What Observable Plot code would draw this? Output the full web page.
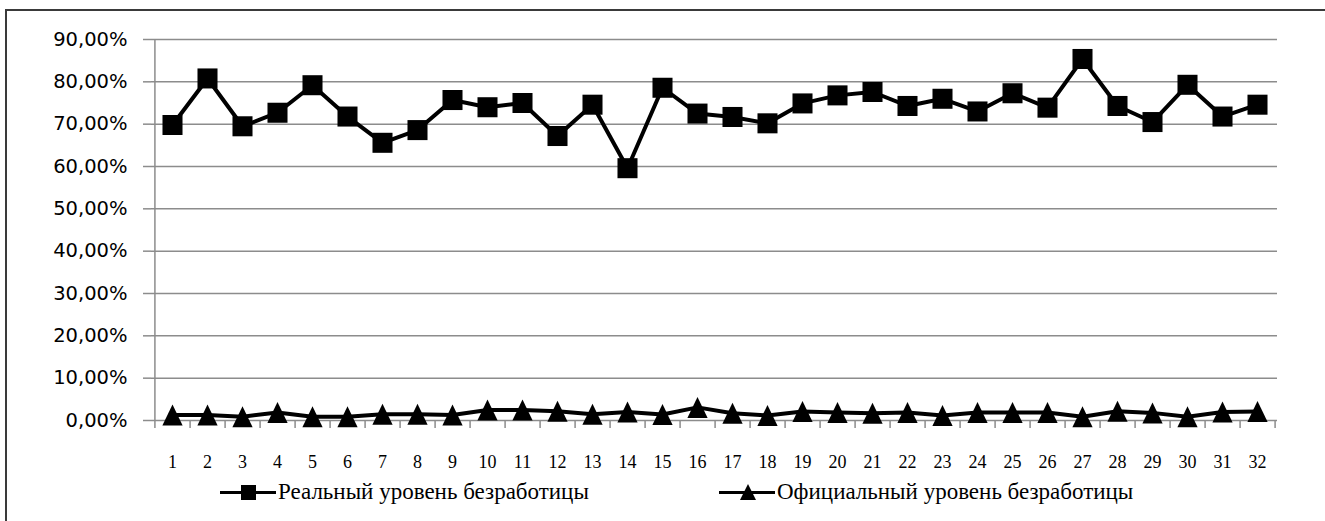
<!DOCTYPE html>
<html><head><meta charset="utf-8">
<script src="https://cdn.jsdelivr.net/npm/d3@7"></script>
<script src="https://cdn.jsdelivr.net/npm/@observablehq/plot@0.6"></script>
<style>
body{margin:0;background:#fff}
#wrap{position:relative;width:1325px;height:521px;overflow:hidden;background:#fff}
#frame{position:absolute;left:5px;top:9px;width:1400px;height:600px;border:2px solid #3a3a3a}
#chart{position:absolute;left:0;top:0}
#legend{position:absolute;left:0;top:477px;width:1325px;height:30px;font-family:"Liberation Serif",serif;font-size:23px;color:#000}
.item{position:absolute;top:0;height:30px;display:flex;align-items:center;white-space:nowrap}
.item svg{margin-right:2px}
</style></head><body>
<div id="wrap"><div id="frame"></div><div id="chart"></div><div id="legend"></div></div>
<script>
const categories = [1,2,3,4,5,6,7,8,9,10,11,12,13,14,15,16,17,18,19,20,21,22,23,24,25,26,27,28,29,30,31,32];
const xTickLabels = ["1","2","3","4","5","6","7","8","9","10","11","12","13","14","15","16","17","18","19","20","21","22","23","24","25","26","27","28","29","30","31","32"];
const realRate = [69.8,80.8,69.5,72.7,79.2,71.8,65.6,68.6,75.7,74.0,75.0,67.2,74.6,59.6,78.6,72.5,71.7,70.2,74.9,76.8,77.6,74.3,76.0,73.0,77.3,73.9,85.4,74.3,70.5,79.3,71.8,74.6];
const officialRate = [1.3,1.3,0.9,1.9,0.9,0.9,1.5,1.5,1.3,2.5,2.5,2.2,1.5,2.0,1.4,3.1,1.7,1.2,2.1,1.9,1.7,1.9,1.2,1.9,1.9,1.9,0.9,2.2,1.8,0.9,2.0,2.1];
const yTicks = [0,10,20,30,40,50,60,70,80,90];
const yTickLabels = ["0,00%","10,00%","20,00%","30,00%","40,00%","50,00%","60,00%","70,00%","80,00%","90,00%"];
const seriesNames = ["Реальный уровень безработицы","Официальный уровень безработицы"];

const W = 1325, H = 475, ml = 151, mr = 48, mt = 39, mb = 55;
const step = (W - ml - mr) / categories.length;
const rows = categories.map((c, i) => ({c, label: xTickLabels[i], real: realRate[i], official: officialRate[i]}));
const triangle = {draw(ctx, size) {
  const r = Math.sqrt(size / Math.PI), w = r * 1.35, h = r * 1.4;
  ctx.moveTo(0, -h); ctx.lineTo(w, h); ctx.lineTo(-w, h); ctx.closePath();
}};
const grid = "#8c8c8c";

const chart = Plot.plot({
  width: W, height: H, marginLeft: ml, marginRight: mr, marginTop: mt, marginBottom: mb,
  style: {background: "transparent", overflow: "visible"},
  x: {type: "point", domain: categories, padding: 0.5},
  y: {domain: [0, 90]},
  marks: [
    Plot.ruleY(yTicks, {stroke: grid, strokeWidth: 1.5}),
    Plot.ruleX([categories[0]], {dx: -step / 2, stroke: grid, strokeWidth: 1.5, insetBottom: -8}),
    Plot.axisY({ticks: yTicks, tickFormat: d => yTickLabels[yTicks.indexOf(d)], tickSize: 8, tickPadding: 16,
      stroke: grid, strokeWidth: 1.5, fill: "black", fontFamily: "DejaVu Sans", fontSize: 19.5, label: null}),
    Plot.axisX({ticks: categories, tickSize: 8, tickFormat: () => "", dx: step / 2, stroke: grid, strokeWidth: 1.5, label: null}),
    Plot.text(rows, {x: "c", text: "label", frameAnchor: "bottom", lineAnchor: "top", dy: 34.5,
      fontFamily: "Liberation Serif", fontSize: 18, fill: "black"}),
    Plot.line(rows, {x: "c", y: "real", stroke: "black", strokeWidth: 4}),
    Plot.dot(rows, {x: "c", y: "real", symbol: "square", r: 11.3, fill: "black"}),
    Plot.line(rows, {x: "c", y: "official", stroke: "black", strokeWidth: 4}),
    Plot.dot(rows, {x: "c", y: "official", symbol: triangle, r: 7.5, fill: "black"})
  ]
});
document.getElementById("chart").appendChild(chart);

const legend = document.getElementById("legend");
const legendItems = [
  {name: seriesNames[0], left: 220, marker: "square"},
  {name: seriesNames[1], left: 719, marker: "triangle"}
];
for (const it of legendItems) {
  const div = document.createElement("div");
  div.className = "item";
  div.style.left = it.left + "px";
  const m = it.marker === "square"
    ? '<rect x="21" y="3" width="15" height="15" fill="#000"/>'
    : '<path d="M29,2 L37,18 L21,18 Z" fill="#000"/>';
  div.innerHTML = '<svg width="56" height="20"><line x1="0" x2="56" y1="10.5" y2="10.5" stroke="#000" stroke-width="3"/>' + m + '</svg><span></span>';
  div.querySelector("span").textContent = it.name;
  legend.appendChild(div);
}
</script>
</body></html>
